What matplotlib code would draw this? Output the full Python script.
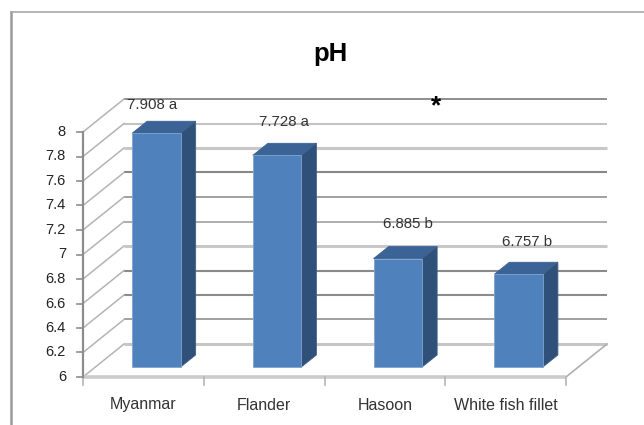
import matplotlib
matplotlib.use('Agg')
import matplotlib.pyplot as plt
from matplotlib.patches import Polygon
from matplotlib.transforms import Affine2D, IdentityTransform

categories = ['Myanmar', 'Flander', 'Hasoon', 'White fish fillet']
ph_values = [7.908, 7.728, 6.885, 6.757]
letters = ['a', 'a', 'b', 'b']
y_ticks = [6, 6.2, 6.4, 6.6, 6.8, 7, 7.2, 7.4, 7.6, 7.8, 8]
y_labels = ['6', '6.2', '6.4', '6.6', '6.8', '7', '7.2', '7.4', '7.6', '7.8', '8']

W, H = 644, 425
WALL_DX, WALL_DY = 41, 33
BAR_DX, BAR_DY = 13, 10
SIDE_DX, SIDE_DY = 15, 12
BAR_W = 0.402

# grid lines came out uneven in the scan, bottom to top
grid_cols = ['#c6c6c6', '#a0a0a0', '#8c8c8c', '#8a8a8a', '#c8c8c8', '#a8a8a8',
             '#a0a0a0', '#888888', '#c8c8c8', '#bcbcbc', '#868686']
grid_lw = [2.2, 1.4, 1.5, 1.5, 2.2, 1.3, 1.4, 1.5, 2.2, 1.3, 1.3]
# label nudges in pixels, the labels do not sit centred on the bars
label_dx = [9, 20, 23, 21]
label_dy = [38, 43, 45, 42]

plt.rcParams['font.family'] = 'Liberation Sans'

fig = plt.figure(figsize=(W / 100, H / 100), dpi=100, facecolor='white')
ax = fig.add_axes([83 / W, (H - 377) / H, (566 - 83) / W, (377 - 132) / H])
ax.set_xlim(0, 4)
ax.set_ylim(6, 8)
ax.axis('off')
px = IdentityTransform()


def shifted(dx, dy):
    return ax.transData + Affine2D().translate(dx, dy)


def px_line(p0, p1, **kw):
    ax.plot([p0[0], p1[0]], [p0[1], p1[1]], transform=px, clip_on=False, **kw)


wall = shifted(WALL_DX, WALL_DY)
bars = shifted(BAR_DX, BAR_DY)

# back wall and side wall grid
for v, c, lw in zip(y_ticks, grid_cols, grid_lw):
    ax.plot([0, 4], [v, v], color=c, lw=lw, transform=wall, clip_on=False,
            solid_capstyle='butt', zorder=1)
    x0, y0 = ax.transData.transform((0, v))
    px_line((x0, y0), (x0 + WALL_DX, y0 + WALL_DY), color='#b4b4b4', lw=1.1, zorder=1)

# floor edges
x0, y0 = ax.transData.transform((4, 6))
px_line((x0, y0), (x0 + WALL_DX, y0 + WALL_DY), color='#b0b0b0', lw=1.2, zorder=1)
ax.plot([0, 4], [6, 6], color='#cccccc', lw=2.6, clip_on=False,
        solid_capstyle='butt', zorder=2)

# bars: top and side faces follow the front face
for i, v in enumerate(ph_values):
    left, right = i + 0.5 - BAR_W / 2, i + 0.5 + BAR_W / 2
    a = bars.transform([(left, v), (right, v), (right, 6)])
    off = (SIDE_DX, SIDE_DY)
    ax.add_patch(Polygon([a[0], a[1], a[1] + off, a[0] + off], closed=True, transform=px,
                         facecolor='#3b6396', edgecolor='#3b6396', lw=0.6,
                         clip_on=False, zorder=3))
    ax.add_patch(Polygon([a[1], a[2], a[2] + off, a[1] + off], closed=True, transform=px,
                         facecolor='#2f5078', edgecolor='#3f6288', lw=0.6,
                         clip_on=False, zorder=3))

ax.bar([i + 0.5 for i in range(4)], [v - 6 for v in ph_values], width=BAR_W,
       bottom=6, color='#4f81bd', edgecolor='#7fa3cf', linewidth=0.6,
       transform=bars, clip_on=False, zorder=4)

# value axis
ax.plot([0, 0], [6, 8], color='#8c8c8c', lw=1.6, clip_on=False, zorder=3)
for v, lab in zip(y_ticks, y_labels):
    x0, y0 = ax.transData.transform((0, v))
    px_line((x0 - 6, y0), (x0, y0), color='#8c8c8c', lw=1.2, zorder=3)
    ax.annotate(lab, xy=(0, v), xytext=(-17, 0), textcoords='offset pixels',
                ha='right', va='center', fontsize=10.5, color='#222222')

# category axis
for i in range(5):
    x0, y0 = ax.transData.transform((i, 6))
    px_line((x0, y0), (x0, y0 - 8), color='#b5b5b5', lw=1.2, zorder=2)
for i, name in enumerate(categories):
    ax.annotate(name, xy=(i + 0.5, 6), xytext=(0, -28), textcoords='offset pixels',
                ha='center', va='center', fontsize=11.5, color='#333333')

# data labels sit a bit above the bars
for i, (v, let) in enumerate(zip(ph_values, letters)):
    ax.annotate('%.3f %s' % (v, let), xy=(i + 0.5, v), xytext=(label_dx[i], label_dy[i]),
                textcoords='offset pixels', ha='center', va='center', fontsize=10.8,
                color='#333333', zorder=6)

fig.text(330 / W, 1 - 54 / H, 'pH', ha='center', va='center', fontsize=18.5,
         fontweight='bold', color='black')
fig.text(436 / W, 1 - 106 / H, '*', ha='center', va='center', fontsize=19,
         fontweight='bold', color='black', zorder=12)

# outer chart frame, cut off at right and bottom
fig.add_artist(plt.Line2D([11 / W, 11 / W], [0, 1 - 12 / H], color='#9a9a9a', lw=1.8))
fig.add_artist(plt.Line2D([11 / W, 1], [1 - 12 / H, 1 - 12 / H], color='#a8a8a8', lw=1.2))

fig.savefig('out.png', dpi=100)
